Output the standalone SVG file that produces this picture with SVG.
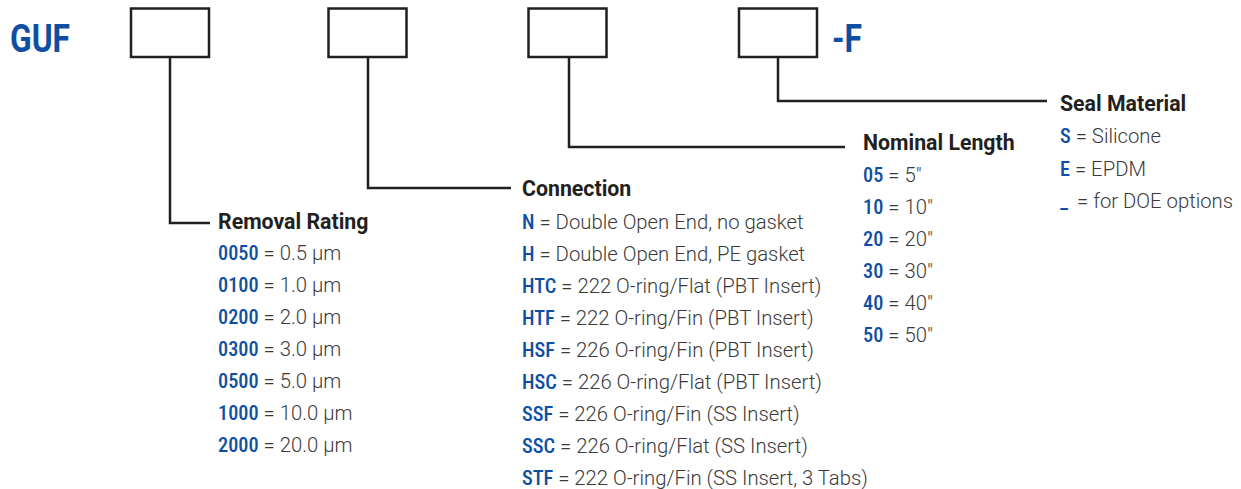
<svg xmlns="http://www.w3.org/2000/svg" width="1241" height="489" viewBox="0 0 1241 489">
<style>
.box{fill:#fff;stroke:#231f20;stroke-width:2.5}
.ln{fill:none;stroke:#231f20;stroke-width:2.5}
.big{font-family:Roboto,"Liberation Sans",sans-serif;font-weight:700;font-size:39px;fill:#0e4fa3}
.h{font-family:Roboto,"Liberation Sans",sans-serif;font-weight:700;font-size:21.3px;fill:#231f20}
.t{font-family:Roboto,"Liberation Sans",sans-serif;font-weight:300;font-size:20.3px;fill:#3a3a3a}
.c{font-weight:500;fill:#0e4fa3;font-stretch:condensed}
</style>
<rect width="1241" height="489" fill="#fff"/>
<g id="prefix"><text class="big" x="10" y="52" textLength="60" lengthAdjust="spacingAndGlyphs">GUF</text></g>
<g id="suffix"><text class="big" x="832" y="52" textLength="30" lengthAdjust="spacingAndGlyphs">-F</text></g>
<g id="box-rating"><rect class="box" x="131" y="8.5" width="78" height="48.5"/></g>
<g id="box-connection"><rect class="box" x="328.5" y="8.5" width="78" height="48.5"/></g>
<g id="box-length"><rect class="box" x="528.5" y="8.5" width="78" height="48.5"/></g>
<g id="box-seal"><rect class="box" x="739" y="8.5" width="78" height="48.5"/></g>
<g id="connectors">
<polyline class="ln" points="170,57 170,223 210,223"/>
<polyline class="ln" points="368,57 368,188 511,188"/>
<polyline class="ln" points="569,57 569,147 845,147"/>
<polyline class="ln" points="778,57 778,101 1047,101"/>
</g>
<g id="removal-rating">
<text class="h" x="218" y="229">Removal Rating</text>
<text class="t" x="218" y="260"><tspan class="c">0050</tspan> = 0.5 µm</text>
<text class="t" x="218" y="292"><tspan class="c">0100</tspan> = 1.0 µm</text>
<text class="t" x="218" y="324"><tspan class="c">0200</tspan> = 2.0 µm</text>
<text class="t" x="218" y="356"><tspan class="c">0300</tspan> = 3.0 µm</text>
<text class="t" x="218" y="388"><tspan class="c">0500</tspan> = 5.0 µm</text>
<text class="t" x="218" y="420"><tspan class="c">1000</tspan> = 10.0 µm</text>
<text class="t" x="218" y="452"><tspan class="c">2000</tspan> = 20.0 µm</text>
</g>
<g id="connection">
<text class="h" x="522" y="196">Connection</text>
<text class="t" x="522" y="229"><tspan class="c">N</tspan> = Double Open End, no gasket</text>
<text class="t" x="522" y="261"><tspan class="c">H</tspan> = Double Open End, PE gasket</text>
<text class="t" x="522" y="293"><tspan class="c">HTC</tspan> = 222 O-ring/Flat (PBT Insert)</text>
<text class="t" x="522" y="325"><tspan class="c">HTF</tspan> = 222 O-ring/Fin (PBT Insert)</text>
<text class="t" x="522" y="357"><tspan class="c">HSF</tspan> = 226 O-ring/Fin (PBT Insert)</text>
<text class="t" x="522" y="389"><tspan class="c">HSC</tspan> = 226 O-ring/Flat (PBT Insert)</text>
<text class="t" x="522" y="421"><tspan class="c">SSF</tspan> = 226 O-ring/Fin (SS Insert)</text>
<text class="t" x="522" y="453"><tspan class="c">SSC</tspan> = 226 O-ring/Flat (SS Insert)</text>
<text class="t" x="522" y="485"><tspan class="c">STF</tspan> = 222 O-ring/Fin (SS Insert, 3 Tabs)</text>
</g>
<g id="nominal-length">
<text class="h" x="863" y="150">Nominal Length</text>
<text class="t" x="863" y="182"><tspan class="c">05</tspan> = 5"</text>
<text class="t" x="863" y="214"><tspan class="c">10</tspan> = 10"</text>
<text class="t" x="863" y="246"><tspan class="c">20</tspan> = 20"</text>
<text class="t" x="863" y="278"><tspan class="c">30</tspan> = 30"</text>
<text class="t" x="863" y="310"><tspan class="c">40</tspan> = 40"</text>
<text class="t" x="863" y="342"><tspan class="c">50</tspan> = 50"</text>
</g>
<g id="seal-material">
<text class="h" x="1060" y="111">Seal Material</text>
<text class="t" x="1060" y="143"><tspan class="c">S</tspan> = Silicone</text>
<text class="t" x="1060" y="176"><tspan class="c">E</tspan> = EPDM</text>
<text class="t" x="1060" y="208"><tspan class="c">_</tspan><tspan x="1077">= for DOE options</tspan></text>
</g>
</svg>
